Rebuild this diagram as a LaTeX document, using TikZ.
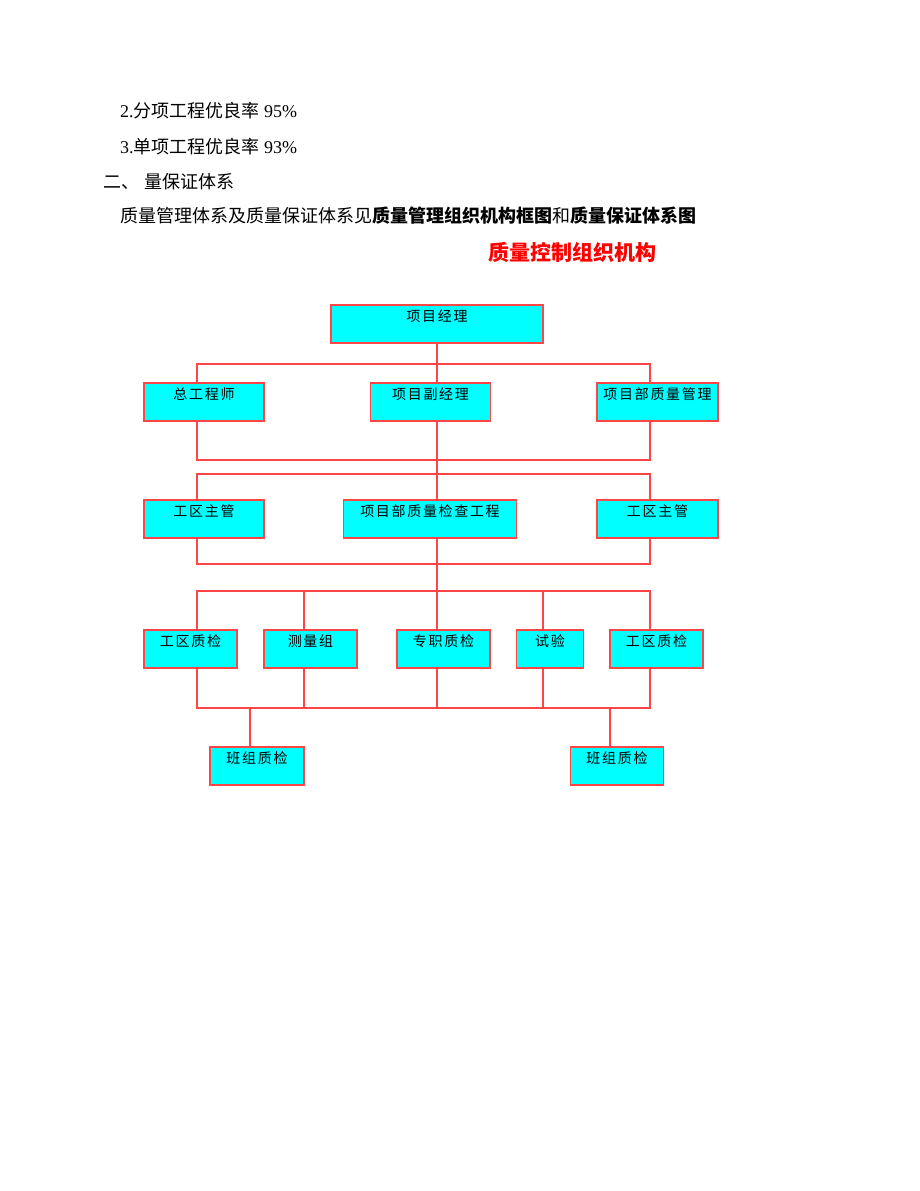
\documentclass[tikz,border=0pt]{standalone}
\usepackage{fontspec}
\setmainfont{Liberation Serif}
\newfontfamily\cjk{Noto Sans CJK SC}
\newfontfamily\cjkbox[LetterSpace=12]{Noto Sans CJK SC}
\definecolor{lred}{RGB}{255,70,70}
\definecolor{boxcyan}{RGB}{0,255,255}
\begin{document}
\begin{tikzpicture}[x=1pt,y=-1pt,
  box/.style={draw=lred, line width=1.3pt, fill=boxcyan, inner xsep=0pt, inner ysep=0pt,
    minimum height=38pt, text height=16pt, text depth=22pt,
    font=\cjkbox\fontsize{14}{14}\selectfont, anchor=center},
  ln/.style={draw=lred, line width=1.3pt},
  txt/.style={anchor=base west, inner sep=0pt, font=\fontsize{18}{20}\selectfont}]
\useasboundingbox[fill=white] (0,0) rectangle (920,1191);

% text block
\node[txt] (l1) at (120,117) {2.{\cjk 分项工程优良率} 95\%};
\node[txt] (l2) at (120,153) {3.{\cjk 单项工程优良率} 93\%};
\node[txt] (l3) at (103,188) {{\cjk 二、}\hspace{5pt}{\cjk 量保证体系}};
\node[txt] (l4) at (120,222) {\cjk 质量管理体系及质量保证体系见{\bfseries 质量管理组织机构框图}和{\bfseries 质量保证体系图}};
\node[anchor=base west, inner sep=0pt, text=red, font=\cjk\bfseries\fontsize{21}{22}\selectfont] (title) at (488,260) {质量控制组织机构};

% column and level coordinates
\coordinate (cL) at (197,0);
\coordinate (cM) at (437,0);
\coordinate (cR) at (650,0);
\coordinate (c2) at (304,0);
\coordinate (c4) at (543,0);
\coordinate (cb1) at (250,0);
\coordinate (cb2) at (610,0);
\coordinate (y1) at (0,364);
\coordinate (y2) at (0,460);
\coordinate (y3) at (0,474);
\coordinate (y4) at (0,564);
\coordinate (y5) at (0,591);
\coordinate (y6) at (0,708);

% boxes
\node[box, minimum width=212pt] (pm) at (437,324) {项目经理};
\node[box, minimum width=120pt] (ce) at (204,402) {总工程师};
\node[box, minimum width=120pt] (vpm) at (430.5,402) {项目副经理};
\node[box, minimum width=121pt] (qm) at (657.5,402) {项目部质量管理};
\node[box, minimum width=120pt] (wa) at (204,519) {工区主管};
\node[box, minimum width=173pt] (qc) at (430,519) {项目部质量检查工程};
\node[box, minimum width=121pt] (wb) at (657.5,519) {工区主管};
\node[box, minimum width=93pt] (q1) at (190.5,649) {工区质检};
\node[box, minimum width=93pt] (sl) at (310.5,649) {测量组};
\node[box, minimum width=93pt] (zz) at (443.5,649) {专职质检};
\node[box, minimum width=67pt] (sy) at (550,649) {试验};
\node[box, minimum width=93pt] (q2) at (656.5,649) {工区质检};
\node[box, minimum width=94pt] (b1) at (257,766) {班组质检};
\node[box, minimum width=93.5pt] (b2) at (617,766) {班组质检};

% connectors
\draw[ln] (pm.south) -- (vpm.north -| cM);
\draw[ln] (ce.north -| cL) -- (cL |- y1) -- (cR |- y1) -- (qm.north -| cR);
\draw[ln] (ce.south -| cL) -- (cL |- y2) -- (cR |- y2) -- (qm.south -| cR);
\draw[ln] (vpm.south -| cM) -- (qc.north -| cM);
\draw[ln] (wa.north -| cL) -- (cL |- y3) -- (cR |- y3) -- (wb.north -| cR);
\draw[ln] (wa.south -| cL) -- (cL |- y4) -- (cR |- y4) -- (wb.south -| cR);
\draw[ln] (qc.south -| cM) -- (zz.north -| cM);
\draw[ln] (q1.north -| cL) -- (cL |- y5) -- (cR |- y5) -- (q2.north -| cR);
\draw[ln] (sl.north -| c2) -- (c2 |- y5);
\draw[ln] (sy.north -| c4) -- (c4 |- y5);
\draw[ln] (q1.south -| cL) -- (cL |- y6) -- (cR |- y6) -- (q2.south -| cR);
\draw[ln] (sl.south -| c2) -- (c2 |- y6);
\draw[ln] (zz.south -| cM) -- (cM |- y6);
\draw[ln] (sy.south -| c4) -- (c4 |- y6);
\draw[ln] (cb1 |- y6) -- (b1.north -| cb1);
\draw[ln] (cb2 |- y6) -- (b2.north -| cb2);
\end{tikzpicture}
\end{document}
